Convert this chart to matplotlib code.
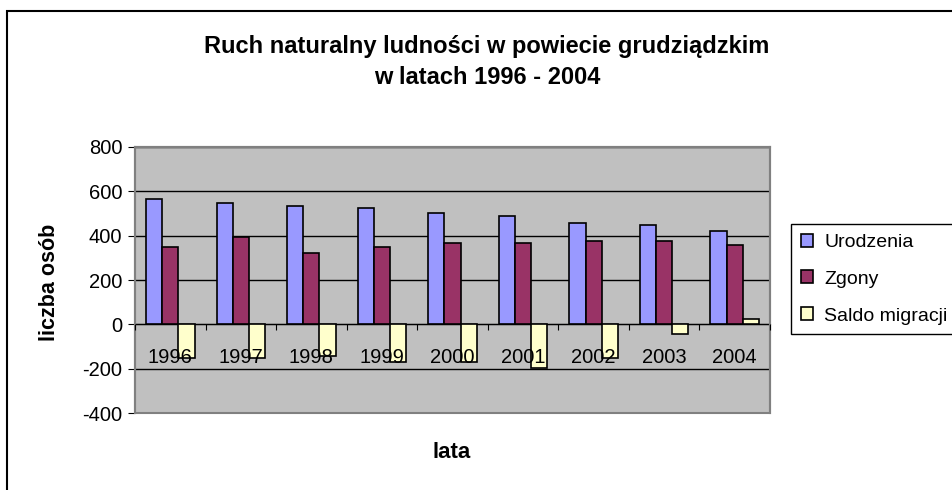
import numpy as np
import matplotlib
matplotlib.use("Agg")
import matplotlib.pyplot as plt
from matplotlib.patches import Rectangle

plt.rcParams['font.family'] = ['Liberation Sans', 'DejaVu Sans']
plt.rcParams['axes.unicode_minus'] = False

lata = ['1996', '1997', '1998', '1999', '2000', '2001', '2002', '2003', '2004']
urodzenia = [565, 547, 536, 527, 502, 491, 457, 446, 421]
zgony = [349, 394, 322, 349, 367, 367, 377, 377, 358]
saldo_migracji = [-150, -150, -142, -169, -169, -199, -153, -45, 26]

fig = plt.figure(figsize=(9.52, 4.9), dpi=100)
ax = fig.add_axes([0.1418, 0.1571, 0.667, 0.5429])
ax.set_facecolor('#C0C0C0')

x = np.arange(len(lata))
w = 0.229
ax.bar(x - w, urodzenia, w, color='#9999FF', edgecolor='black', linewidth=1.2, label='Urodzenia', zorder=3)
ax.bar(x, zgony, w, color='#993366', edgecolor='black', linewidth=1.2, label='Zgony', zorder=3)
ax.bar(x + w, saldo_migracji, w, color='#FFFFCC', edgecolor='black', linewidth=1.2, label='Saldo migracji', zorder=3)

ax.set_xlim(-0.5, len(lata) - 0.5)
ax.set_ylim(-400, 800)
ax.set_yticks(range(-400, 801, 200))
ax.yaxis.grid(True, color='black', linewidth=1)
ax.set_axisbelow(True)
ax.xaxis.set_zorder(4)  # year labels drawn over the bars

# category axis crosses at zero
for s in ['top', 'right', 'left']:
    ax.spines[s].set_color('#808080')
    ax.spines[s].set_linewidth(1.5)
ax.spines['bottom'].set_position(('data', 0))
ax.spines['bottom'].set_color('black')
ax.spines['bottom'].set_zorder(2)
ax.add_patch(Rectangle((0, 0), 1, 1, transform=ax.transAxes, fill=False,
                       edgecolor='#808080', linewidth=1.5, zorder=1, clip_on=False))

ax.set_xticks(np.arange(-0.5, len(lata), 1.0))
ax.set_xticklabels([])
ax.set_xticks(x, minor=True)
ax.set_xticklabels(lata, minor=True, fontsize=14.5)
ax.tick_params(axis='x', which='major', direction='out', length=4.5, color='black')
ax.tick_params(axis='x', which='minor', length=0, pad=17)
ax.tick_params(axis='y', direction='out', length=5, labelsize=14.5, color='black', pad=4)

ax.set_ylabel('liczba osób', fontsize=15.5, fontweight='bold')
ax.yaxis.set_label_coords(-0.118, 0.49)
fig.text(452 / 952, 1 - 452 / 490, 'lata', fontsize=16, fontweight='bold', ha='center', va='center')
fig.text(487 / 952, 1 - 46 / 490, 'Ruch naturalny ludności w powiecie grudziądzkim',
         fontsize=17, fontweight='bold', ha='center', va='center')
fig.text(487 / 952, 1 - 78 / 490, 'w latach 1996 - 2004',
         fontsize=17, fontweight='bold', ha='center', va='center')

leg = fig.legend(loc='upper left', bbox_to_anchor=(791 / 952, 1 - 224 / 490), fontsize=14,
                 frameon=True, fancybox=False, edgecolor='black', framealpha=1,
                 handlelength=0.65, handleheight=0.65, handletextpad=0.55,
                 labelspacing=1.0, borderpad=0.5, borderaxespad=0)
leg.get_frame().set_linewidth(1)

# chart border
fig.add_artist(Rectangle((7 / 952, -0.1), 1.2, 1 - 11.5 / 490 + 0.1, transform=fig.transFigure,
                         fill=False, edgecolor='black', linewidth=1.5))

fig.savefig('out.png', dpi=100)
